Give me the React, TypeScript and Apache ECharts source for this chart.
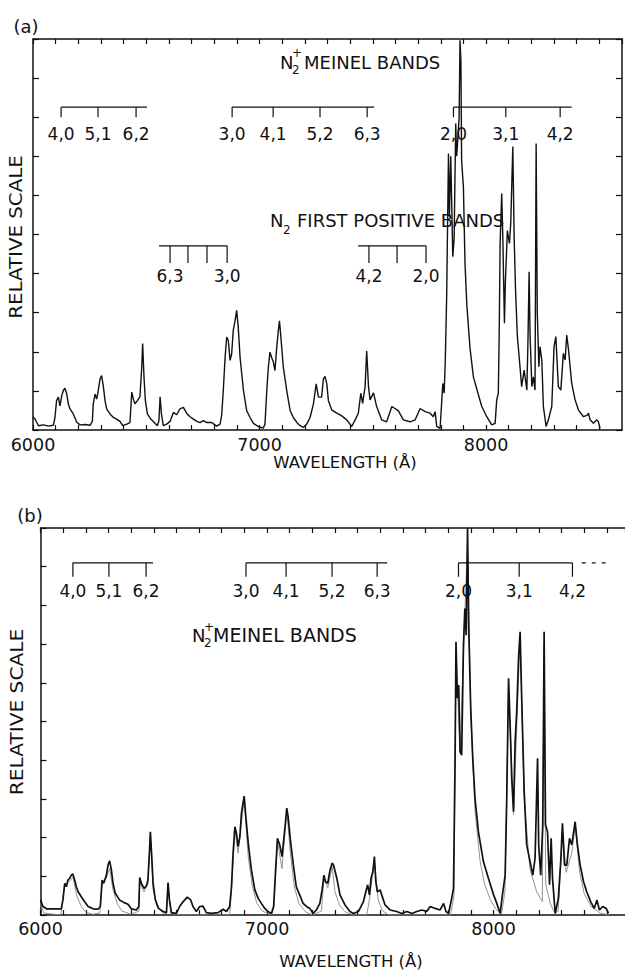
import React, { useEffect, useRef } from "react";
import * as echarts from "echarts";

// ---------- data ----------
const xLabelValues = [6000, 7000, 8000];

const spectrumA: number[][] = [
  [6000,0.34],[6009,0.28],[6024,0.11],[6046,0.13],[6068,0.10],[6090,0.12],[6097,0.32],[6104,0.75],[6112,0.84],[6119,0.62],
  [6127,0.88],[6134,1.01],[6141,1.07],[6149,0.92],[6156,0.67],[6163,0.54],[6178,0.41],[6193,0.20],[6208,0.13],[6230,0.14],
  [6252,0.12],[6262,0.22],[6266,0.67],[6274,0.92],[6281,0.79],[6288,1.01],[6296,1.31],[6303,1.39],[6311,1.09],[6318,0.75],
  [6325,0.54],[6340,0.41],[6355,0.32],[6369,0.28],[6384,0.22],[6396,0.11],[6414,0.15],[6428,0.19],[6436,0.97],[6443,0.79],
  [6450,0.67],[6461,0.75],[6472,0.85],[6480,1.61],[6484,2.21],[6490,1.35],[6496,0.75],[6505,0.41],[6520,0.28],[6534,0.20],
  [6549,0.11],[6556,0.24],[6561,0.85],[6567,0.41],[6575,0.11],[6590,0.15],[6605,0.22],[6620,0.45],[6634,0.39],[6649,0.54],
  [6664,0.58],[6678,0.43],[6693,0.34],[6708,0.28],[6723,0.22],[6737,0.19],[6752,0.24],[6767,0.19],[6789,0.19],[6811,0.10],
  [6826,0.15],[6833,0.39],[6840,1.01],[6848,1.86],[6855,2.38],[6862,2.29],[6870,1.78],[6877,1.95],[6884,2.55],[6892,2.80],
  [6899,3.06],[6906,2.63],[6914,1.86],[6929,1.01],[6943,0.50],[6958,0.32],[6973,0.17],[6988,0.11],[7002,0.07],[7017,0.05],
  [7024,0.15],[7032,1.01],[7039,1.61],[7046,1.99],[7053,1.86],[7061,1.74],[7068,1.52],[7076,2.12],[7083,2.55],[7088,2.79],
  [7093,2.46],[7105,1.61],[7120,1.01],[7135,0.50],[7149,0.32],[7164,0.20],[7179,0.11],[7194,0.07],[7208,0.15],[7223,0.32],
  [7238,0.67],[7250,1.18],[7260,0.84],[7274,0.84],[7282,1.31],[7289,1.37],[7297,1.18],[7304,0.75],[7319,0.51],[7341,0.43],
  [7363,0.36],[7385,0.26],[7407,0.09],[7422,0.26],[7436,0.43],[7447,0.94],[7455,0.68],[7466,1.11],[7473,2.02],[7481,1.11],
  [7488,0.77],[7503,0.95],[7517,0.60],[7539,0.26],[7561,0.21],[7584,0.60],[7598,0.55],[7613,0.49],[7635,0.26],[7664,0.21],
  [7687,0.26],[7709,0.55],[7731,0.47],[7753,0.43],[7767,0.34],[7775,0.47],[7782,0.09],[7797,0.04],[7809,1.19],[7815,0.94],
  [7820,1.79],[7826,3.4],[7834,7.07],[7838,5.46],[7844,7.0],[7853,4.43],[7859,4.9],[7866,7.84],[7870,7.0],[7875,7.42],
  [7881,8.0],[7885,9.97],[7889,9.4],[7892,6.9],[7900,6.2],[7907,4.26],[7915,3.2],[7929,2.1],[7944,1.36],[7966,0.90],
  [7981,0.60],[8003,0.34],[8025,0.13],[8040,0.17],[8047,0.77],[8054,0.94],[8058,2.5],[8062,4.77],[8069,6.05],[8074,4.9],
  [8081,2.73],[8085,3.75],[8094,5.1],[8103,4.77],[8109,5.3],[8118,7.25],[8124,4.9],[8130,3.6],[8138,2.4],[8150,1.6],
  [8157,1.11],[8168,1.53],[8180,1.02],[8185,2.3],[8190,4.05],[8194,2.47],[8202,1.11],[8209,1.36],[8216,1.02],[8221,7.33],
  [8226,3.0],[8233,1.62],[8238,2.13],[8246,1.79],[8253,0.6],[8265,0.09],[8275,0.26],[8290,0.6],[8300,2.13],[8308,2.39],
  [8319,1.11],[8330,1.02],[8341,1.96],[8349,1.79],[8356,2.43],[8364,2.05],[8378,1.19],[8393,0.77],[8408,0.51],[8430,0.34],
  [8447,0.38],[8452,0.43],[8459,0.26],[8474,0.17],[8489,0.26],[8496,0.21],[8503,0.04]
];

const spectrumB: number[][] = [
  [6000,0.39],[6011,0.22],[6026,0.16],[6055,0.16],[6092,0.16],[6099,0.39],[6107,0.82],[6114,0.73],[6121,0.90],[6129,0.95],
  [6136,1.03],[6143,1.06],[6151,0.90],[6158,0.73],[6166,0.60],[6180,0.47],[6195,0.34],[6210,0.22],[6232,0.16],[6254,0.15],
  [6264,0.22],[6272,0.90],[6279,0.82],[6291,1.03],[6298,1.29],[6305,1.40],[6313,1.16],[6320,0.82],[6330,0.56],[6349,0.39],
  [6369,0.32],[6386,0.28],[6401,0.16],[6423,0.13],[6434,0.22],[6438,0.97],[6445,0.82],[6457,0.69],[6467,0.75],[6474,0.89],
  [6480,1.51],[6485,2.15],[6491,1.51],[6497,0.82],[6507,0.39],[6521,0.17],[6541,0.09],[6556,0.06],[6563,0.84],[6569,0.39],
  [6578,0.06],[6600,0.04],[6614,0.22],[6629,0.34],[6648,0.46],[6663,0.39],[6673,0.22],[6688,0.09],[6703,0.22],[6717,0.23],
  [6732,0.06],[6754,0.04],[6784,0.06],[6806,0.15],[6821,0.09],[6835,0.22],[6843,0.73],[6850,1.59],[6858,2.28],[6865,2.11],
  [6872,1.77],[6880,2.02],[6887,2.63],[6894,2.89],[6899,3.07],[6905,2.63],[6917,1.85],[6931,1.16],[6946,0.65],[6961,0.43],
  [6975,0.30],[6990,0.17],[7004,0.09],[7019,0.04],[7029,0.22],[7037,1.08],[7046,1.98],[7056,1.81],[7066,1.51],[7075,2.02],
  [7081,2.37],[7087,2.76],[7093,2.54],[7103,1.94],[7115,1.34],[7129,0.73],[7144,0.52],[7159,0.30],[7174,0.22],[7189,0.17],
  [7203,0.04],[7218,0.13],[7233,0.30],[7243,0.65],[7251,1.03],[7258,0.86],[7268,0.82],[7278,1.16],[7287,1.34],[7293,1.30],
  [7308,0.95],[7322,0.52],[7344,0.26],[7366,0.09],[7381,0.04],[7403,0.09],[7425,0.34],[7436,0.60],[7444,0.78],[7452,0.52],
  [7459,0.95],[7467,1.12],[7474,1.51],[7480,0.86],[7487,0.60],[7499,0.65],[7506,0.52],[7521,0.26],[7543,0.13],[7572,0.09],
  [7595,0.04],[7617,0.09],[7639,0.04],[7661,0.09],[7683,0.13],[7705,0.09],[7720,0.22],[7742,0.17],[7764,0.13],[7779,0.30],
  [7790,0.09],[7801,0.04],[7812,0.34],[7823,0.69],[7830,4.05],[7834,7.06],[7840,5.6],[7846,5.94],[7852,4.22],[7859,4.13],
  [7867,6.98],[7873,7.92],[7879,7.23],[7885,10.0],[7890,7.49],[7899,5.34],[7908,4.05],[7918,3.01],[7933,2.15],[7955,1.38],
  [7977,0.95],[8000,0.52],[8014,0.30],[8029,0.04],[8039,0.52],[8051,1.03],[8058,3.01],[8066,6.12],[8073,4.91],[8080,3.53],
  [8088,2.67],[8095,4.48],[8102,5.25],[8110,6.63],[8117,7.32],[8124,5.6],[8135,3.19],[8146,1.81],[8161,1.38],[8173,1.03],
  [8183,1.46],[8194,4.05],[8199,1.81],[8208,1.03],[8217,2.33],[8223,7.32],[8229,2.33],[8238,2.15],[8247,0.78],[8254,1.98],
  [8260,0.95],[8272,0.04],[8286,0.43],[8297,1.46],[8304,2.37],[8313,1.29],[8323,1.29],[8335,1.98],[8345,1.81],[8360,2.41],
  [8370,1.81],[8382,1.29],[8397,0.86],[8411,0.60],[8429,0.34],[8444,0.17],[8456,0.39],[8467,0.13],[8482,0.22],[8497,0.17],
  [8507,0.04]
];

const synthB: number[][] = [
  [6000,0.30],[6015,0.05],[6090,0.0],[6100,0.5],[6108,0.8],[6125,0.85],[6143,0.98],[6160,0.5],[6180,0.22],[6200,0.08],
  [6230,0.02],[6262,0.05],[6272,0.8],[6290,0.95],[6305,1.2],[6320,0.65],[6340,0.28],[6360,0.1],[6400,0.02],[6434,0.1],
  [6438,0.85],[6457,0.6],[6474,0.8],[6485,2.1],[6497,0.65],[6515,0.22],[6540,0.05],[6556,0.04],[6563,0.8],[6575,0.04],
  [6620,0.0],[6835,0.0],[6843,0.6],[6858,2.2],[6872,1.6],[6899,3.0],[6917,1.5],[6935,0.75],[6955,0.3],[6980,0.1],
  [7020,0.0],[7029,0.15],[7046,1.9],[7066,1.2],[7087,2.7],[7103,1.6],[7120,0.75],[7140,0.3],[7170,0.08],[7200,0.0],
  [7240,0.1],[7251,0.95],[7268,0.7],[7287,1.25],[7300,0.6],[7320,0.25],[7345,0.08],[7380,0.0],[7440,0.0],[7452,0.4],
  [7474,1.4],[7490,0.4],[7510,0.1],[7540,0.0],[7810,0.0],[7825,0.5],[7834,6.8],[7852,4.2],[7873,7.8],[7885,9.6],
  [7899,5.2],[7918,2.7],[7940,1.4],[7960,0.8],[7985,0.4],[8010,0.15],[8035,0.03],[8050,0.6],[8066,5.9],[8088,2.6],
  [8117,7.2],[8135,3.0],[8160,1.2],[8190,0.6],[8215,0.35],[8223,7.0],[8230,0.8],[8250,0.3],[8270,0.05],[8285,0.1],
  [8304,2.2],[8320,1.1],[8345,1.6],[8360,2.3],[8380,1.1],[8400,0.55],[8430,0.22],[8470,0.05],[8510,0.0]
];

// band-head combs (wavelengths in Å)
const meinelTicksA = [[6124, 6287, 6455], [6879, 7060, 7267, 7475], [7856, 8087, 8327]];
const meinelSpansA = [[6124, 6503], [6879, 7506], [7856, 8378]];
const meinelLabels = [["4,0", "5,1", "6,2"], ["3,0", "4,1", "5,2", "6,3"], ["2,0", "3,1", "4,2"]];
const firstPosTicksA = [[6605, 6684, 6768, 6857], [7483, 7607, 7735]];
const firstPosSpansA = [[6556, 6857], [7435, 7735]];
const firstPosLabelsA = [["6,3", "", "", "3,0"], ["4,2", "", "2,0"]];
const meinelTicksB = [[6143, 6302, 6466], [6907, 7084, 7287, 7486], [7845, 8113, 8348]];
const meinelSpansB = [[6143, 6497], [6907, 7530], [7845, 8348]];
const meinelDashSpanB = [[8389, 8515]];

// comb levels on the relative scale: [bar, tick end, label]
const meinelLevelsA = [8.26, 8.0, 7.57];
const firstPosLevelsA = [4.71, 4.27, 3.94];
const meinelLevelsB = [9.1, 8.74, 8.37];

const FONT = '"DejaVu Sans", sans-serif';

function combSeries(
  ticksArr: number[][], spansArr: number[][], labelsArr: string[][],
  levels: number[], axisIdx: number, dashed = false
) {
  return {
    type: "custom",
    xAxisIndex: axisIdx,
    yAxisIndex: axisIdx,
    silent: true,
    clip: false,
    z: 5,
    data: spansArr.map((s) => [s[0], levels[0]]),
    renderItem: (params: any, api: any) => {
      const i = params.dataIndex;
      const span = spansArr[i];
      const ticks = ticksArr[i] || [];
      const labels = (labelsArr && labelsArr[i]) || [];
      const [lineV, tickV, labelV] = levels;
      const p0 = api.coord([span[0], lineV]);
      const p1 = api.coord([span[1], lineV]);
      const children: any[] = [
        {
          type: "line",
          shape: { x1: p0[0], y1: p0[1], x2: p1[0], y2: p1[1] },
          style: { stroke: "#111", lineWidth: 1.2, lineDash: dashed ? [4, 6] : null },
        },
      ];
      ticks.forEach((t: number, k: number) => {
        const a = api.coord([t, lineV]);
        const b = api.coord([t, tickV]);
        children.push({
          type: "line",
          shape: { x1: a[0], y1: a[1], x2: b[0], y2: b[1] },
          style: { stroke: "#111", lineWidth: 1.2 },
        });
        if (labels[k]) {
          const c = api.coord([t, labelV]);
          children.push({
            type: "text",
            x: c[0],
            y: c[1],
            style: {
              text: labels[k],
              fontSize: 17,
              fontFamily: FONT,
              fill: "#111",
              align: "center",
              verticalAlign: "middle",
              textAlign: "center",
              textVerticalAlign: "middle",
            },
          });
        }
      });
      return { type: "group", children };
    },
  };
}

function txt(text: string, x: number, y: number, size: number, align = "left", rotation = 0, scaleX = 1) {
  return {
    type: "text",
    x,
    y,
    rotation,
    scaleX,
    z: 10,
    style: {
      text,
      fontSize: size,
      fontFamily: FONT,
      fill: "#111",
      align,
      verticalAlign: "middle",
      textAlign: align,
      textVerticalAlign: "middle",
    },
  };
}

const axisLineStyle = { color: "#111", width: 1.5 };

function xAxes(gridIndex: number, max: number, margin: number) {
  return [
    {
      type: "value",
      gridIndex,
      min: 6000,
      max,
      interval: 100,
      position: "bottom",
      axisLine: { show: true, onZero: false, lineStyle: axisLineStyle },
      axisTick: { show: true, inside: true, length: 5, lineStyle: { color: "#111", width: 1.2 } },
      axisLabel: {
        show: true,
        margin,
        fontSize: 17.5,
        fontFamily: FONT,
        color: "#111",
        showMaxLabel: false,
        formatter: (v: number) => (xLabelValues.includes(v) ? String(v) : ""),
      },
      splitLine: { show: false },
    },
    {
      type: "value",
      gridIndex,
      min: 6000,
      max,
      interval: 100,
      position: "top",
      axisLine: { show: true, onZero: false, lineStyle: axisLineStyle },
      axisTick: { show: true, inside: true, length: 5, lineStyle: { color: "#111", width: 1.2 } },
      axisLabel: { show: false },
      splitLine: { show: false },
    },
  ];
}

function yAxis(gridIndex: number, position: string) {
  return {
    type: "value",
    gridIndex,
    min: 0,
    max: 10,
    interval: 1,
    position,
    axisLine: { show: true, onZero: false, lineStyle: axisLineStyle },
    axisTick: { show: true, inside: true, length: 6, lineStyle: { color: "#111", width: 1.2 } },
    axisLabel: { show: false },
    splitLine: { show: false },
  };
}

export default function App() {
  const ref = useRef<HTMLDivElement>(null);
  useEffect(() => {
    document.body.style.margin = "0";
    const chart = echarts.init(ref.current as HTMLDivElement, null, { renderer: "svg" });
    const option: any = {
      animation: false,
      backgroundColor: "#fff",
      grid: [
        { left: 33, top: 39, width: 589, height: 391 },
        { left: 40.5, top: 528, width: 584.5, height: 387 },
      ],
      xAxis: [...xAxes(0, 8600, 6), ...xAxes(1, 8580, 5)],
      yAxis: [yAxis(0, "left"), yAxis(0, "right"), yAxis(1, "left")],
      series: [
        {
          type: "line",
          xAxisIndex: 0,
          yAxisIndex: 0,
          data: spectrumA,
          showSymbol: false,
          silent: true,
          clip: false,
          lineStyle: { color: "#111", width: 1.4 },
        },
        {
          type: "line",
          xAxisIndex: 2,
          yAxisIndex: 2,
          data: synthB,
          showSymbol: false,
          silent: true,
          lineStyle: { color: "#888", width: 0.9 },
        },
        {
          type: "line",
          xAxisIndex: 2,
          yAxisIndex: 2,
          data: spectrumB,
          showSymbol: false,
          silent: true,
          clip: false,
          lineStyle: { color: "#111", width: 1.7 },
        },
        combSeries(meinelTicksA, meinelSpansA, meinelLabels, meinelLevelsA, 0),
        combSeries(firstPosTicksA, firstPosSpansA, firstPosLabelsA, firstPosLevelsA, 0),
        combSeries(meinelTicksB, meinelSpansB, meinelLabels, meinelLevelsB, 2),
        combSeries([[]], meinelDashSpanB, [[]], meinelLevelsB, 2, true),
      ],
      graphic: [
        txt("(a)", 26, 26, 18, "center"),
        txt("(b)", 30, 515, 18, "center"),
        txt("RELATIVE SCALE", 15.5, 237, 18, "center", Math.PI / 2, 1.1),
        txt("RELATIVE SCALE", 17, 712, 18, "center", Math.PI / 2, 1.12),
        txt("WAVELENGTH (Å)", 345, 462, 16.5, "center"),
        txt("WAVELENGTH (Å)", 351, 961, 16.5, "center"),
        // N2+ Meinel bands (a)
        txt("N", 280, 62, 18),
        txt("+", 292, 53, 12),
        txt("2", 292, 70, 12),
        txt("MEINEL BANDS", 304, 62, 18),
        // N2 first positive bands (a)
        txt("N", 270, 220, 18),
        txt("2", 283, 230, 12),
        txt("FIRST POSITIVE BANDS", 297, 220, 18),
        // N2+ Meinel bands (b)
        txt("N", 192, 635, 18),
        txt("+", 204, 627, 12),
        txt("2", 204, 643, 12),
        txt("MEINEL BANDS", 213, 635, 19),
      ],
    };
    chart.setOption(option);
    return () => chart.dispose();
  }, []);
  return <div ref={ref} style={{ width: 625, height: 970 }} />;
}
